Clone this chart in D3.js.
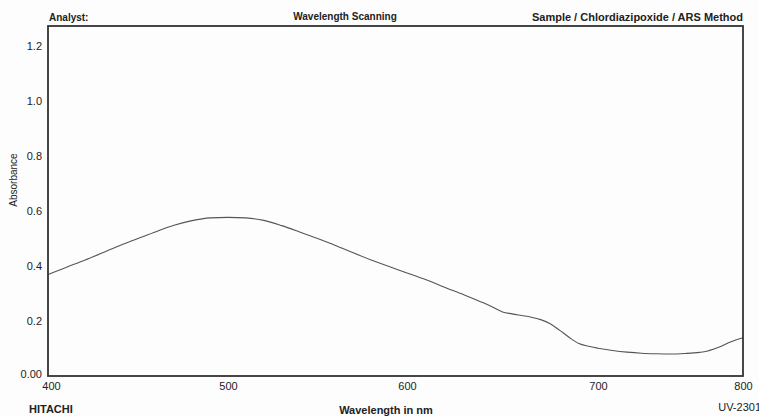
<!DOCTYPE html>
<html>
<head>
<meta charset="utf-8">
<script src="https://d3js.org/d3.v7.min.js"></script>
<style>
  body { margin: 0; background: #fff; }
  svg { display: block; font-family: "Liberation Sans", Arial, sans-serif; }
  .lbl { fill: #222; font-size: 11px; }
</style>
</head>
<body>
<svg width="759" height="416"></svg>
<script>
// spectrum (wavelength nm / absorbance)
var wavelength = [400, 410, 420, 430, 440, 450, 460, 470, 480, 490, 500, 510, 520, 530, 540,
                  550, 560, 570, 580, 590, 600, 610, 620, 630, 640, 645, 650, 655, 660, 665,
                  670, 675, 680, 685, 690, 695, 700, 710, 720, 730, 740, 750, 760, 770, 775, 780,
                  785, 790, 795, 800];
var absorbance = [0.369, 0.395, 0.42, 0.447, 0.475, 0.5, 0.525, 0.548, 0.565, 0.575, 0.577, 0.575, 0.566, 0.547, 0.524,
                  0.5, 0.475, 0.448, 0.422, 0.398, 0.375, 0.35, 0.322, 0.295, 0.266, 0.25, 0.233, 0.226, 0.22, 0.214,
                  0.205, 0.19, 0.166, 0.14, 0.118, 0.108, 0.101, 0.093, 0.087, 0.083, 0.081, 0.08, 0.082, 0.086, 0.09, 0.098,
                  0.108, 0.121, 0.131, 0.139];
var xTicks = [400, 500, 600, 700, 800];
var yTicks = [0, 0.2, 0.4, 0.6, 0.8, 1.0, 1.2];

var svg = d3.select('svg');
var pLeft = 48, pRight = 743, pTop = 26, pBottom = 376;

// the instrument's label spacing is not even, so keep it piecewise
var x = d3.scaleLinear().domain(xTicks).range([48, 228, 407, 598, 743]);
var y = d3.scaleLinear().domain([0, 1.273]).range([pBottom, pTop]);

svg.append('rect')
    .attr('width', 759).attr('height', 416)
    .attr('fill', '#fdfdfd');

// y tick labels
svg.append('g')
    .attr('transform', 'translate(' + pLeft + ',0)')
    .call(d3.axisLeft(y).tickValues(yTicks).tickSize(0).tickPadding(6)
        .tickFormat(function(d) { return d === 0 ? '0.00' : d3.format('.1f')(d); }))
    .call(function(g) { g.select('.domain').remove(); })
    .selectAll('text')
    .attr('class', 'lbl')
    .style('font-family', '"Liberation Sans", Arial, sans-serif')
    .attr('dy', function(d) { return d === 0 ? '0.1em' : '0.32em'; });

// x tick labels
svg.append('g')
    .attr('transform', 'translate(0,' + pBottom + ')')
    .call(d3.axisBottom(x).tickValues(xTicks).tickSize(0).tickPadding(6).tickFormat(d3.format('d')))
    .call(function(g) { g.select('.domain').remove(); })
    .selectAll('text')
    .attr('class', 'lbl')
    .style('font-family', '"Liberation Sans", Arial, sans-serif')
    .attr('dx', function(d) { return d === 400 ? 3 : 0; });

// spectrum
var line = d3.line()
    .x(function(d, i) { return x(wavelength[i]); })
    .y(function(d) { return y(d); })
    .curve(d3.curveMonotoneX);

svg.append('path')
    .datum(absorbance)
    .attr('d', line)
    .attr('fill', 'none')
    .attr('stroke', '#555')
    .attr('stroke-width', 1.1);

// frame
svg.append('rect')
    .attr('x', pLeft).attr('y', pTop)
    .attr('width', pRight - pLeft).attr('height', pBottom - pTop)
    .attr('fill', 'none')
    .attr('stroke', '#333')
    .attr('stroke-width', 1.8);

// header / footer texts
svg.append('text').attr('class', 'lbl').attr('x', 49).attr('y', 21)
    .style('font-weight', 'bold').style('font-size', '10px').text('Analyst:');
svg.append('text').attr('class', 'lbl').attr('x', 345).attr('y', 20)
    .attr('text-anchor', 'middle').style('font-weight', 'bold').style('font-size', '10px')
    .text('Wavelength Scanning');
svg.append('text').attr('class', 'lbl').attr('x', 743).attr('y', 21)
    .attr('text-anchor', 'end').style('font-weight', 'bold').style('font-size', '11px')
    .text('Sample / Chlordiazipoxide / ARS Method');

svg.append('text').attr('class', 'lbl').attr('x', 29).attr('y', 413)
    .style('font-weight', 'bold').style('font-size', '11px').text('HITACHI');
svg.append('text').attr('class', 'lbl').attr('x', 386).attr('y', 414)
    .attr('text-anchor', 'middle').style('font-weight', 'bold').style('font-size', '11px')
    .text('Wavelength in nm');
svg.append('text').attr('class', 'lbl').attr('x', 761).attr('y', 411)
    .attr('text-anchor', 'end').style('font-size', '11px').text('UV-2301');

svg.append('text').attr('class', 'lbl')
    .attr('transform', 'translate(17,180) rotate(-90)')
    .attr('text-anchor', 'middle').style('font-size', '10px')
    .text('Absorbance');
</script>
</body>
</html>
